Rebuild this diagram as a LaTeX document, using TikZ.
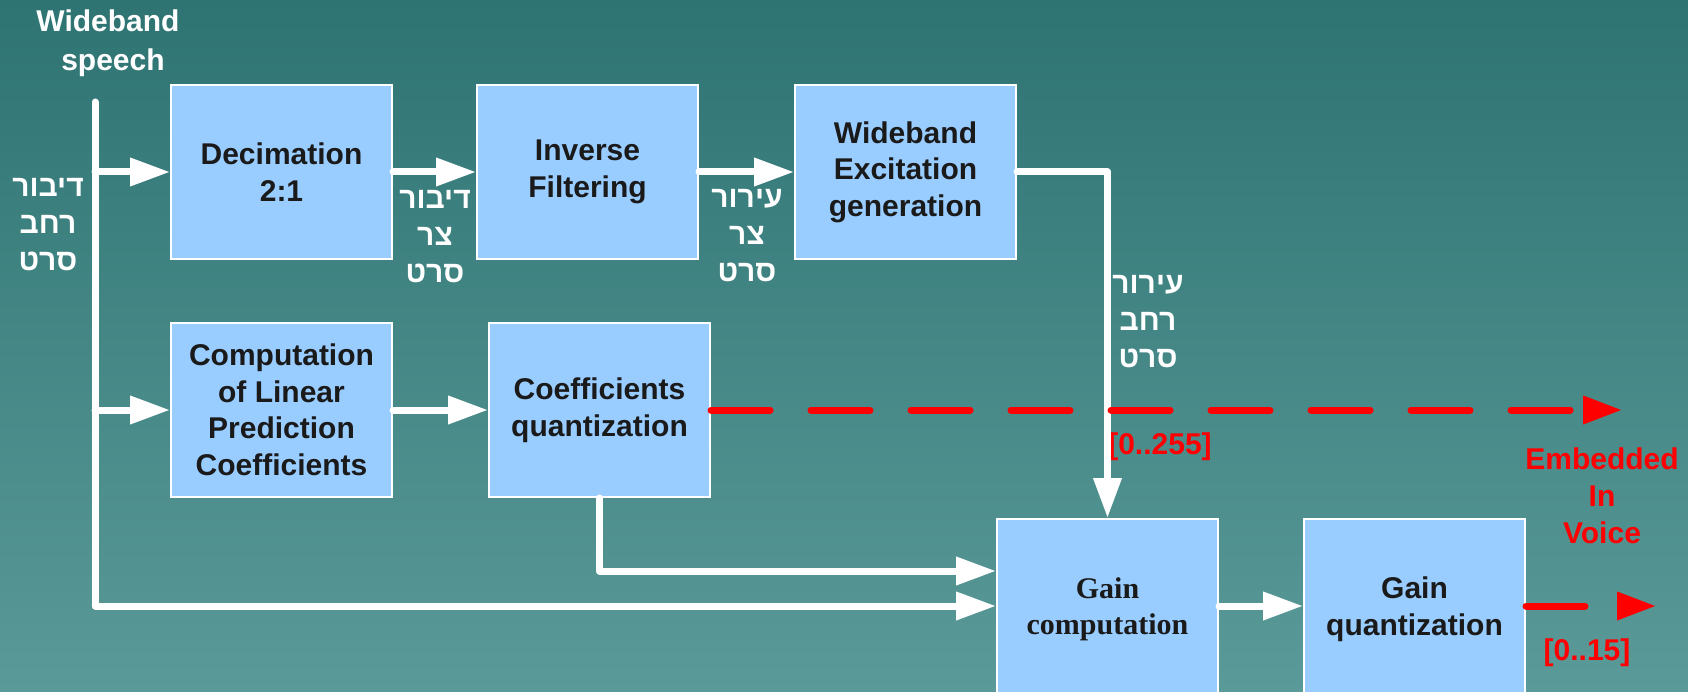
\documentclass[tikz,border=0pt]{standalone}
\usepackage{fontspec}
\setmainfont{Liberation Sans}
\newfontfamily\serifb{Liberation Serif}
\newfontfamily\hebfont[Script=Hebrew]{Liberation Sans}
\TeXXeTstate=1
\usetikzlibrary{arrows.meta}
\definecolor{bgtop}{HTML}{2E7473}
\definecolor{bgbot}{HTML}{5A9A98}
\definecolor{boxfill}{HTML}{99CCFF}
\definecolor{txt}{HTML}{1A1A1A}
\definecolor{redc}{HTML}{FF0000}
\begin{document}
\begin{tikzpicture}[x=1pt,y=-1pt,
  blk/.style={draw=white, line width=2pt, fill=boxfill, minimum width=221pt, minimum height=174pt, inner sep=0pt, align=center, text=txt, font=\fontsize{30}{36.5}\selectfont\bfseries},
  wire/.style={draw=white, line width=7pt, line cap=round, line join=round},
  arr/.style={wire, -{Triangle[length=40pt,width=27pt]}},
  reddash/.style={draw=redc, line width=7pt, line cap=round, dash pattern=on 59pt off 41pt, -{Triangle[length=39pt,width=27pt]}},
  wlab/.style={text=white, align=center, font=\fontsize{30}{39.5}\selectfont\bfseries},
  heb/.style={text=white, align=center, font=\hebfont\fontsize{30}{37}\selectfont\bfseries},
  rlab/.style={text=redc, align=center, font=\fontsize{30}{37}\selectfont\bfseries}]
\useasboundingbox (0,0) rectangle (1688,692);
\clip (0,0) rectangle (1688,692);
\shade[top color=bgtop, bottom color=bgbot] (0,0) rectangle (1688,692);

% blocks
\node[blk] (dec) at (281.5,172) {Decimation\\2:1};
\node[blk] (inv) at (587.5,172) {Inverse\\Filtering};
\node[blk] (we) at (905.5,172) {Wideband\\Excitation\\generation};
\node[blk] (lpc) at (281.5,410) {Computation\\of Linear\\Prediction\\Coefficients};
\node[blk] (cq) at (599.5,410) {Coefficients\\quantization};
\node[blk, font=\serifb\fontsize{30}{36}\selectfont\bfseries] (gc) at (1107.5,606) {\rule{0pt}{28pt}Gain\\computation};
\node[blk] (gq) at (1414.5,606) {\rule{0pt}{28pt}Gain\\quantization};

% labels
\node[wlab] (ws) at (108,43) {Wideband\\\hspace*{10pt}speech};
\node[heb] (h1) at (48,225) {\beginR דיבור\endR\\\beginR רחב\endR\\\beginR סרט\endR};
\node[heb] (h2) at (435,237) {\beginR דיבור\endR\\\beginR צר\endR\\\beginR סרט\endR};
\node[heb] (h3) at (747,236) {\beginR עירור\endR\\\beginR צר\endR\\\beginR סרט\endR};
\node[heb] (h4) at (1148,322) {\beginR עירור\endR\\\beginR רחב\endR\\\beginR סרט\endR};
\node[rlab] (r1) at (1160,447) {[0..255]};
\node[rlab] (emb) at (1602,496) {Embedded\\In\\Voice};
\node[rlab] (r2) at (1587,653) {[0..15]};

% connectors
\coordinate (bt) at (95,102);
\coordinate (b1) at (95,172);
\coordinate (b2) at (95,410);
\draw[arr] (bt) |- (gc.west);
\draw[arr] (b1) -- (dec.west);
\draw[arr] (b2) -- (lpc.west);
\draw[arr] (dec.east) -- (inv.west);
\draw[arr] (inv.east) -- (we.west);
\draw[arr] (we.east) -| (gc.north);
\draw[arr] (lpc.east) -- (cq.west);
\draw[arr] (cq.south) |- ([yshift=35pt]gc.west);
\draw[arr] (gc.east) -- (gq.west);
\coordinate (e1) at (1622,410);
\coordinate (e2) at (1656,606);
\draw[reddash] (cq.east) -- (e1);
\draw[reddash] (gq.east) -- (e2);
\end{tikzpicture}
\end{document}
